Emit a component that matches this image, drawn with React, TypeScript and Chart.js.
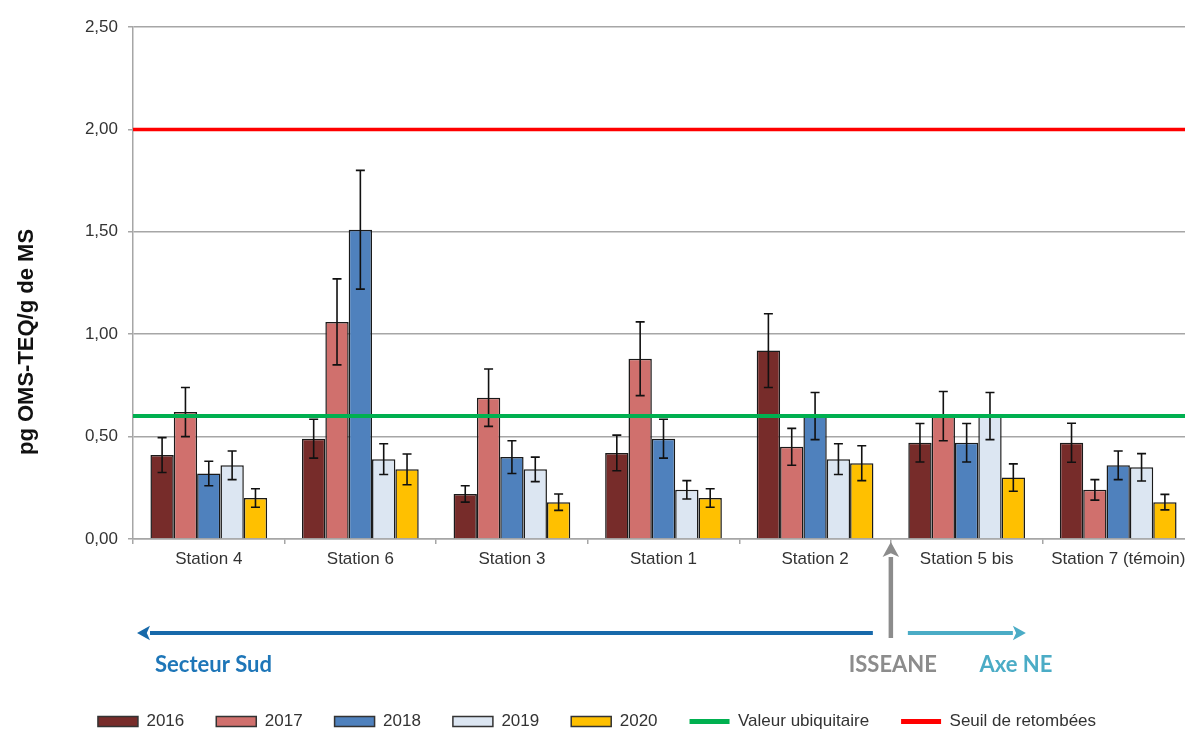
import React, { useEffect, useRef } from "react";
import { Chart, registerables } from "chart.js";
Chart.register(...registerables);

const stations = ["Station 4", "Station 6", "Station 3", "Station 1", "Station 2", "Station 5 bis", "Station 7 (témoin)"];
const years = ["2016", "2017", "2018", "2019", "2020"];
const v2016 = [0.41, 0.49, 0.22, 0.42, 0.92, 0.47, 0.47];
const v2017 = [0.62, 1.06, 0.69, 0.88, 0.45, 0.6, 0.24];
const v2018 = [0.32, 1.51, 0.4, 0.49, 0.6, 0.47, 0.36];
const v2019 = [0.36, 0.39, 0.34, 0.24, 0.39, 0.6, 0.35];
const v2020 = [0.2, 0.34, 0.18, 0.2, 0.37, 0.3, 0.18];
const e2016 = [0.085, 0.095, 0.04, 0.087, 0.18, 0.094, 0.095];
const e2017 = [0.12, 0.21, 0.14, 0.18, 0.09, 0.12, 0.05];
const e2018 = [0.06, 0.29, 0.08, 0.095, 0.115, 0.094, 0.07];
const e2019 = [0.07, 0.075, 0.06, 0.045, 0.075, 0.115, 0.067];
const e2020 = [0.045, 0.075, 0.04, 0.045, 0.085, 0.067, 0.038];
const yTicks = [0, 0.5, 1, 1.5, 2, 2.5];
const thresholdValues = [0.6, 2.0];
const thresholdLabels = ["Valeur ubiquitaire", "Seuil de retombées"];
const thresholdColors = ["#00B050", "#FF0000"];
const yTitle = "pg OMS-TEQ/g de MS";
const annotationLabels = ["Secteur Sud", "ISSEANE", "Axe NE"];

const barColors = ["#772C2A", "#D0706D", "#4F81BD", "#DCE6F2", "#FFC000"];
const values = [v2016, v2017, v2018, v2019, v2020];
const errors = [e2016, e2017, e2018, e2019, e2020];

const FONT = "Liberation Sans, Arial";

const errorBarPlugin = {
  id: "errorBars",
  afterDatasetsDraw(chart: any) {
    const ctx = chart.ctx;
    const y = chart.scales.y;
    const area = chart.chartArea;
    ctx.save();
    ctx.strokeStyle = "#111";
    ctx.lineWidth = 1.6;
    chart.data.datasets.forEach((ds: any, i: number) => {
      const meta = chart.getDatasetMeta(i);
      meta.data.forEach((bar: any, j: number) => {
        const v = ds.data[j];
        const e = errors[i][j];
        const yt = y.getPixelForValue(v + e);
        const yb = y.getPixelForValue(v - e);
        ctx.beginPath();
        ctx.moveTo(bar.x, yt);
        ctx.lineTo(bar.x, yb);
        ctx.moveTo(bar.x - 4.5, yt);
        ctx.lineTo(bar.x + 4.5, yt);
        ctx.moveTo(bar.x - 4.5, yb);
        ctx.lineTo(bar.x + 4.5, yb);
        ctx.stroke();
      });
    });
    thresholdValues.forEach((tv, k) => {
      const py = y.getPixelForValue(tv);
      ctx.strokeStyle = thresholdColors[k];
      ctx.lineWidth = k === 0 ? 4 : 3.5;
      ctx.beginPath();
      ctx.moveTo(area.left, py);
      ctx.lineTo(area.right, py);
      ctx.stroke();
    });
    ctx.restore();
  },
};

function arrow(ctx: CanvasRenderingContext2D, x1: number, y1: number, x2: number, y2: number, color: string, w: number, head: number) {
  const ang = Math.atan2(y2 - y1, x2 - x1);
  const bx = x2 - Math.cos(ang) * head;
  const by = y2 - Math.sin(ang) * head;
  ctx.save();
  ctx.strokeStyle = color;
  ctx.fillStyle = color;
  ctx.lineWidth = w;
  ctx.beginPath();
  ctx.moveTo(x1, y1);
  ctx.lineTo(bx, by);
  ctx.stroke();
  const hw = head * 0.55;
  ctx.beginPath();
  ctx.moveTo(x2, y2);
  ctx.lineTo(bx - Math.sin(ang) * hw, by + Math.cos(ang) * hw);
  ctx.lineTo(bx + Math.cos(ang) * head * 0.25, by + Math.sin(ang) * head * 0.25);
  ctx.lineTo(bx + Math.sin(ang) * hw, by - Math.cos(ang) * hw);
  ctx.closePath();
  ctx.fill();
  ctx.restore();
}

const annotationPlugin = {
  id: "annotations",
  afterDraw(chart: any) {
    const ctx = chart.ctx;
    const xs = chart.scales.x;
    const area = chart.chartArea;
    const half = (xs.getPixelForValue(1) - xs.getPixelForValue(0)) / 2;
    const bx = xs.getPixelForValue(4) + half;
    const ay = area.bottom + 94;
    const ty = area.bottom + 126;
    arrow(ctx, bx - 18, ay, area.left + 4, ay, "#1769AA", 4, 13);
    arrow(ctx, bx, ay + 5, bx, area.bottom + 3, "#8C8C8C", 4.5, 15);
    arrow(ctx, bx + 17, ay, bx + 135, ay, "#4BACC6", 4, 13);
    ctx.save();
    ctx.font = "bold 22px Lato";
    ctx.textBaseline = "middle";
    ctx.textAlign = "left";
    ctx.fillStyle = "#1E76B8";
    ctx.fillText(annotationLabels[0], area.left + 22, ty);
    ctx.textAlign = "center";
    ctx.fillStyle = "#8C8C8C";
    ctx.fillText(annotationLabels[1], bx + 2, ty);
    ctx.fillStyle = "#4BACC6";
    ctx.fillText(annotationLabels[2], bx + 125, ty);
    ctx.translate(27, area.top + 315);
    ctx.rotate(-Math.PI / 2);
    ctx.font = `bold 22px ${FONT}`;
    ctx.fillStyle = "#111";
    ctx.textAlign = "center";
    ctx.fillText(yTitle, 0, 0);
    ctx.restore();
  },
};

export default function App() {
  const ref = useRef<HTMLCanvasElement>(null);
  useEffect(() => {
    document.body.style.overflow = "hidden";
    const barDatasets: any[] = years.map((yr, i) => ({
      label: yr,
      data: values[i],
      backgroundColor: barColors[i],
      borderColor: "#1a1a1a",
      borderWidth: 1.5,
      categoryPercentage: 0.77,
      barPercentage: 1.0,
    }));
    const chart = new Chart(ref.current!, {
      type: "bar",
      data: { labels: stations, datasets: barDatasets },
      options: {
        animation: false,
        responsive: true,
        maintainAspectRatio: false,
        layout: { padding: { top: 27, right: 2, left: 0, bottom: -11 } },
        plugins: {
          tooltip: { enabled: false },
          legend: {
            position: "bottom",
            labels: {
              usePointStyle: true,
              pointStyleWidth: 40,
              boxHeight: 10,
              padding: 32,
              color: "#333",
              font: { family: FONT, size: 17 },
              generateLabels: (chart: any) => {
                const items = Chart.defaults.plugins.legend.labels.generateLabels(chart);
                items.forEach((it: any) => {
                  const ds = chart.data.datasets[it.datasetIndex];
                  it.pointStyle = "rect";
                  it.fillStyle = ds.backgroundColor;
                  it.strokeStyle = "#333";
                  it.lineWidth = 1.5;
                });
                thresholdLabels.forEach((t, k) => {
                  items.push({
                    text: t,
                    fillStyle: thresholdColors[k],
                    strokeStyle: thresholdColors[k],
                    lineWidth: 5,
                    pointStyle: "line",
                    hidden: false,
                    fontColor: "#333",
                    datasetIndex: years.length + k,
                  } as any);
                });
                return items;
              },
            },
            onClick: () => {},
          },
        },
        scales: {
          x: {
            type: "category",
            offset: true,
            afterFit: (s: any) => {
              s.height = 142;
            },
            grid: {
              offset: true,
              drawOnChartArea: false,
              tickLength: 5,
              color: "#A6A6A6",
              lineWidth: 1.5,
            },
            border: { color: "#A6A6A6", width: 1.5 },
            ticks: {
              color: "#333",
              padding: 5,
              maxRotation: 0,
              autoSkip: false,
              font: { family: FONT, size: 17 },
            },
          },
          y: {
            min: 0,
            max: 2.5,
            afterFit: (s: any) => {
              s.width = 133;
            },
            afterBuildTicks: (s: any) => {
              s.ticks = yTicks.map((v) => ({ value: v }));
            },
            grid: { color: "#A6A6A6", lineWidth: 1.5, tickLength: 5 },
            border: { color: "#A6A6A6", width: 1.5 },
            ticks: {
              color: "#333",
              padding: 10,
              font: { family: FONT, size: 17 },
              callback: (v: any) => Number(v).toFixed(2).replace(".", ","),
            },
            title: { display: false },
          },
        },
      } as any,
      plugins: [errorBarPlugin, annotationPlugin],
    } as any);
    return () => chart.destroy();
  }, []);
  return (
    <div style={{ position: "fixed", left: 0, top: 0, width: 1196, height: 729, background: "#fff" }}>
      <canvas ref={ref} />
    </div>
  );
}
